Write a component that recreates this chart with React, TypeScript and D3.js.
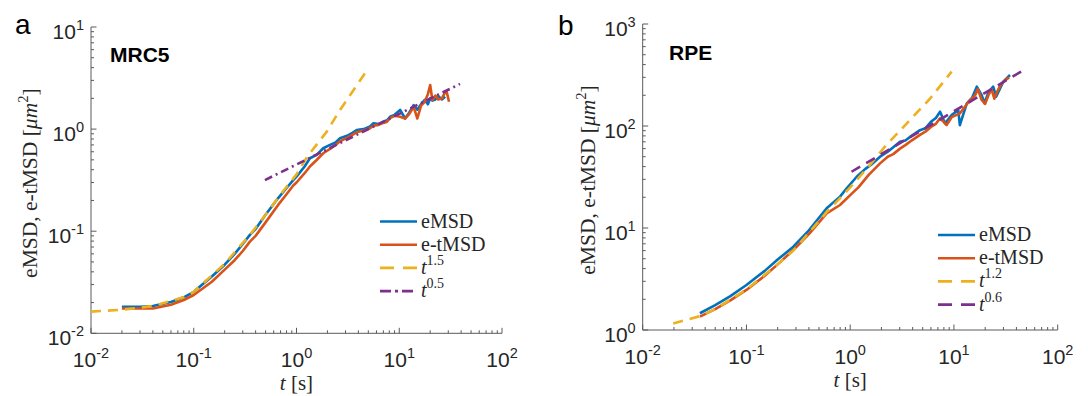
import React from 'react';
import * as d3 from 'd3';

// ---------------- data ----------------
// Panel a (MRC5)
const tBlueA = [0.02,0.03,0.04,0.06,0.08,0.1,0.15,0.2,0.25,0.3,0.352,0.4,0.5,0.66,0.8,0.93,1.0,1.2,1.35,1.57,1.82,2.12,2.4,2.65,3.1,3.5,3.85,4.5,5.2,5.58,6.3,7.0,7.6,8.13,9.0,10.2,11.4,12.5,13.8,15.0,16.3,17.7,19.0,20.0,21.0,22.5,24.0,26.0,28.0];
const eMSD_A = [0.0182,0.0182,0.0185,0.0203,0.0225,0.0255,0.036,0.047,0.06,0.075,0.092,0.105,0.145,0.21,0.265,0.317,0.342,0.43,0.518,0.56,0.649,0.70,0.74,0.813,0.86,0.92,0.98,1.0,1.06,1.14,1.12,1.18,1.22,1.32,1.38,1.54,1.27,1.45,1.72,1.55,1.75,1.93,1.75,2.0,1.9,1.95,2.1,1.95,2.07];
const tOrangeA = [0.02,0.03,0.04,0.06,0.08,0.1,0.15,0.2,0.25,0.3,0.352,0.4,0.5,0.66,0.8,0.93,1.0,1.2,1.35,1.57,1.82,2.12,2.4,2.65,3.1,3.5,3.85,4.5,5.2,5.58,6.3,7.0,7.6,8.13,9.0,10.2,11.4,12.5,13.8,15.0,16.3,17.7,19.0,20.0,21.0,22.5,24.0,26.0,28.0,29.0,30.5];
const etMSD_A = [0.0175,0.0175,0.0175,0.019,0.0212,0.0237,0.032,0.042,0.052,0.064,0.079,0.09,0.122,0.18,0.23,0.28,0.30,0.37,0.43,0.498,0.58,0.64,0.70,0.76,0.82,0.88,0.93,0.97,1.02,1.08,1.10,1.15,1.18,1.28,1.35,1.32,1.27,1.4,1.65,1.27,1.7,1.85,2.2,2.7,1.93,2.13,1.95,2.0,2.3,2.3,1.85];
const tFitHighA = [0.01,0.02,0.04,0.08,0.1,0.2,0.352,0.5,0.69,1.0,1.26,1.97,2.65,3.5,4.64];
const fitHighA = [0.0163,0.017,0.0185,0.0226,0.0255,0.048,0.092,0.145,0.225,0.36,0.53,0.944,1.54,2.32,3.52];
const tFitLowA = [0.493,39];
const fitLowA = [0.317,2.77];

// Panel b (RPE)
const tBlueB = [0.0356,0.05,0.07,0.1,0.15,0.2,0.283,0.4,0.593,0.798,0.925,1.156,1.4,1.6,1.94,2.3,2.6,3.02,3.4,3.9,4.71,5.3,6.0,6.7,7.35,8.22,9.5,11.0,11.4,13.3,15.0,16.6,18.5,19.7,21.5,23.9,25.5,29.9,34.7];
const eMSD_B = [1.46,1.75,2.15,2.76,3.8,4.9,6.56,9.5,15.6,20.3,24.5,31.8,38,42,50,56,62,70,72,80,91,95,110,120,138,106,128,143,102,167,190,243,201,167,215,243,194,272,316];
const tOrangeB = [0.0356,0.05,0.07,0.1,0.15,0.2,0.283,0.4,0.593,0.798,1.0,1.2,1.5,1.94,2.3,2.6,3.02,3.4,3.9,4.71,5.3,6.0,6.7,7.35,7.8,8.5,9.5,10.5,11.4,12.5,14.0,16.0,17.0,18.5,20.0,21.5,23.0,24.5,26.0,28.0,31.0,34.0];
const etMSD_B = [1.35,1.6,1.95,2.47,3.4,4.4,6.08,8.7,13.9,16.8,21,25,33,43,50,53,60,65,72,81.7,88,98,105,119,112,102,122,128,133,150,175,200,230,180,165,200,230,185,215,250,280,300];
const tFitHighB = [0.0197,0.035,0.05,0.1,0.2,0.283,0.593,1.0,1.5,2.16,3.78,5.87,9.5];
const fitHighB = [1.16,1.36,1.6,2.5,4.4,6.0,14.3,25,40,62.7,115,185,341];
const tFitLowB = [1.03,50.2];
const fitLowB = [35.6,368];

const legendA = ['eMSD', 'e-tMSD', '1.5', '0.5'];
const legendB = ['eMSD', 'e-tMSD', '1.2', '0.6'];
const xDecades = [-2, -1, 0, 1, 2];
const yDecadesA = [-2, -1, 0, 1];
const yDecadesB = [0, 1, 2, 3];

const BLUE = '#0072BD';
const ORANGE = '#D95319';
const YELLOW = '#EDB120';
const PURPLE = '#7E2F8E';
const AXIS = '#5a5a5a';
const TXT = '#262626';
const SANS = 'Liberation Sans, Arial, sans-serif';
const SERIF = 'Liberation Serif, Times New Roman, serif';

type Series = { t: number[]; v: number[]; color: string; dash?: string };

type PanelProps = {
  xr: [number, number];
  yr: [number, number];
  yDomain: [number, number];
  yDecades: number[];
  series: Series[];
  title: string;
  titleX: number;
  titleY: number;
  letter: string;
  letterX: number;
  letterY: number;
  ylabelX: number;
  legend: string[];
  legendX: number;
  legendY: number;
  lowLegendDash: string;
};

function Panel(p: PanelProps) {
  const x = d3.scaleLog().domain([0.01, 100]).range(p.xr);
  const y = d3.scaleLog().domain(p.yDomain).range(p.yr);
  const line = d3.line<[number, number]>().x(d => x(d[0])).y(d => y(d[1]));
  const xMinor: number[] = [];
  xDecades.slice(0, -1).forEach(d => { for (let k = 2; k <= 9; k++) xMinor.push(k * Math.pow(10, d)); });
  const yMinor: number[] = [];
  p.yDecades.slice(0, -1).forEach(d => { for (let k = 2; k <= 9; k++) yMinor.push(k * Math.pow(10, d)); });
  const x0 = p.xr[0], x1 = p.xr[1], yb = p.yr[0], yt = p.yr[1];
  const legColors = [BLUE, ORANGE, YELLOW, PURPLE];
  const legDash = [undefined, undefined, '14,9', p.lowLegendDash];
  return (
    <g>
      {/* axes */}
      <line x1={x0} x2={x0} y1={yt} y2={yb} stroke={AXIS} strokeWidth={1} />
      <line x1={x0} x2={x1} y1={yb} y2={yb} stroke={AXIS} strokeWidth={1} />
      {xMinor.map((v, i) => <line key={'xm' + i} x1={x(v)} x2={x(v)} y1={yb} y2={yb - 3} stroke={AXIS} />)}
      {xDecades.map(d => <line key={'xM' + d} x1={x(Math.pow(10, d))} x2={x(Math.pow(10, d))} y1={yb} y2={yb - 5.5} stroke={AXIS} />)}
      {yMinor.map((v, i) => <line key={'ym' + i} x1={x0} x2={x0 + 3} y1={y(v)} y2={y(v)} stroke={AXIS} />)}
      {p.yDecades.map(d => <line key={'yM' + d} x1={x0} x2={x0 + 5.5} y1={y(Math.pow(10, d))} y2={y(Math.pow(10, d))} stroke={AXIS} />)}
      {xDecades.map(d => (
        <text key={'xl' + d} x={x(Math.pow(10, d))} y={yb + 33.5} textAnchor="middle" fontFamily={SANS} fontSize={21} fill={TXT}>
          10<tspan fontSize={14.5} dy={-9}>{String(d)}</tspan>
        </text>
      ))}
      {p.yDecades.map(d => (
        <text key={'yl' + d} x={x0 - 7} y={y(Math.pow(10, d)) + 12} textAnchor="end" fontFamily={SANS} fontSize={21} fill={TXT}>
          10<tspan fontSize={14.5} dy={-9}>{String(d)}</tspan>
        </text>
      ))}
      {/* axis labels */}
      <text x={(x0 + x1) / 2} y={yb + 57} textAnchor="middle" fontFamily={SERIF} fontSize={21} fill={TXT}>
        <tspan fontStyle="italic">t</tspan>{'  [s]'}
      </text>
      <text transform={`translate(${p.ylabelX},${(yt + yb) / 2 + 3}) rotate(-90)`} textAnchor="middle" fontFamily={SERIF} fontSize={21.5} fill={TXT}>
        {'eMSD, e-tMSD  ['}<tspan fontStyle="italic">μm</tspan><tspan fontSize={14.5} dy={-9}>2</tspan><tspan dy={9}>]</tspan>
      </text>
      {/* data */}
      <g fill="none" strokeLinejoin="round">
        {p.series.map((s, i) => (
          <path key={'s' + i} d={line(s.t.map((t, j) => [t, s.v[j]] as [number, number])) || ''} stroke={s.color} strokeWidth={2.6} strokeDasharray={s.dash} />
        ))}
      </g>
      {/* title */}
      <text x={p.titleX} y={p.titleY} fontFamily={SANS} fontWeight="bold" fontSize={21} fill="#000">{p.title}</text>
      <text x={p.letterX} y={p.letterY} fontFamily={SANS} fontSize={28} fill="#000">{p.letter}</text>
      {/* legend */}
      {p.legend.map((lab, i) => {
        const ly = p.legendY + i * 23.2;
        return (
          <g key={'lg' + i}>
            <line x1={p.legendX} x2={p.legendX + 37} y1={ly} y2={ly} stroke={legColors[i]} strokeWidth={2.6} strokeDasharray={legDash[i]} />
            <text x={p.legendX + 41} y={ly + 6} fontFamily={SERIF} fontSize={20} fill={TXT}>
              {i < 2 ? lab : (<><tspan fontStyle="italic">t</tspan><tspan fontSize={14} dy={-9}>{lab}</tspan></>)}
            </text>
          </g>
        );
      })}
    </g>
  );
}

export default function App() {
  return (
    <svg width={1088} height={396} style={{ position: 'absolute', left: 0, top: 0, background: '#fff' }}>
      <rect width={1088} height={396} fill="#fff" />
      <Panel
        xr={[91, 502]} yr={[333.3, 27]} yDomain={[0.01, 10]} yDecades={yDecadesA}
        series={[
          { t: tBlueA, v: eMSD_A, color: BLUE },
          { t: tOrangeA, v: etMSD_A, color: ORANGE },
          { t: tFitHighA, v: fitHighA, color: YELLOW, dash: '10,7' },
          { t: tFitLowA, v: fitLowA, color: PURPLE, dash: '8,4,2,4' },
        ]}
        title="MRC5" titleX={110} titleY={62} letter="a" letterX={15} letterY={34}
        ylabelX={37} legend={legendA} legendX={380} legendY={221.5} lowLegendDash="11,4,3,4"
      />
      <Panel
        xr={[642.7, 1057.7]} yr={[330, 24]} yDomain={[1, 1000]} yDecades={yDecadesB}
        series={[
          { t: tBlueB, v: eMSD_B, color: BLUE },
          { t: tOrangeB, v: etMSD_B, color: ORANGE },
          { t: tFitHighB, v: fitHighB, color: YELLOW, dash: '10,7' },
          { t: tFitLowB, v: fitLowB, color: PURPLE, dash: '10,7' },
        ]}
        title="RPE" titleX={669} titleY={60} letter="b" letterX={558} letterY={35}
        ylabelX={595} legend={legendB} legendX={938} legendY={235} lowLegendDash="14,9"
      />
    </svg>
  );
}
